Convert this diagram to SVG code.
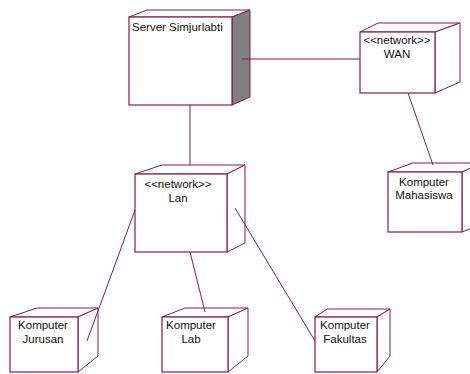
<svg xmlns="http://www.w3.org/2000/svg" width="470" height="374" viewBox="0 0 470 374">
<style>
.f{fill:#ffffff;stroke:#8b1a4a;stroke-width:1.2}
.s{fill:#ffffff;stroke:#8b1a4a;stroke-width:1}
.g{fill:#808080;stroke:#8b1a4a;stroke-width:1}
.c{stroke:#8b1a4a;stroke-width:1;fill:none}
text{font-family:"Liberation Sans",Arial,sans-serif;font-size:11.5px;fill:#111}
.m{text-anchor:middle}
</style>
<rect width="470" height="374" fill="#ffffff"/>
<g id="server">
<polygon class="s" points="129,17 147,10 250,10 232,17"/>
<polygon class="g" points="232,17 250,10 250,97 232,105"/>
<rect class="f" x="129" y="17" width="103" height="88"/>
<text x="132" y="31">Server Simjurlabti</text>
</g>
<g id="wan">
<polygon class="s" points="360,32 378,23 460,23 435,32"/>
<polygon class="s" points="435,32 460,23 460,82 435,93"/>
<rect class="f" x="360" y="32" width="75" height="61"/>
<text class="m" x="397" y="44">&lt;&lt;network&gt;&gt;</text>
<text class="m" x="397" y="58">WAN</text>
</g>
<g id="lan">
<polygon class="s" points="135,174 162,165 245,165 227,174"/>
<polygon class="s" points="227,174 245,165 245,243 227,252"/>
<rect class="f" x="135" y="174" width="92" height="78"/>
<text class="m" x="178" y="188">&lt;&lt;network&gt;&gt;</text>
<text class="m" x="178" y="202">Lan</text>
</g>
<g id="mahasiswa">
<polygon class="s" points="388,172 413,163 482,163 462,172"/>
<polygon class="s" points="462,172 482,163 482,224 462,232"/>
<rect class="f" x="388" y="172" width="74" height="60"/>
<text class="m" x="424" y="186">Komputer</text>
<text class="m" x="424" y="199">Mahasiswa</text>
</g>
<g id="jurusan">
<polygon class="s" points="10,317 37,308 98,308 78,317"/>
<polygon class="s" points="78,317 98,308 98,356 78,372"/>
<rect class="f" x="10" y="317" width="68" height="55"/>
<text class="m" x="43" y="329">Komputer</text>
<text class="m" x="43" y="343">Jurusan</text>
</g>
<g id="lab">
<polygon class="s" points="162,317 185,308 248,308 228,317"/>
<polygon class="s" points="228,317 248,308 248,356 228,372"/>
<rect class="f" x="162" y="317" width="66" height="55"/>
<text class="m" x="191" y="329">Komputer</text>
<text class="m" x="191" y="343">Lab</text>
</g>
<g id="fakultas">
<polygon class="s" points="315,317 327,309 390,309 377,317"/>
<polygon class="s" points="377,317 390,309 390,356 377,372"/>
<rect class="f" x="315" y="317" width="62" height="55"/>
<text class="m" x="345" y="329">Komputer</text>
<text class="m" x="345" y="343">Fakultas</text>
</g>
<g id="connectors">
<line class="c" x1="242" y1="59" x2="360" y2="59"/>
<line class="c" x1="190" y1="105" x2="190" y2="165"/>
<line class="c" x1="408" y1="93" x2="433" y2="165"/>
<line class="c" x1="135" y1="210" x2="87" y2="341"/>
<line class="c" x1="190" y1="252" x2="205" y2="312"/>
<line class="c" x1="235" y1="208" x2="315" y2="341"/>
</g>
</svg>
